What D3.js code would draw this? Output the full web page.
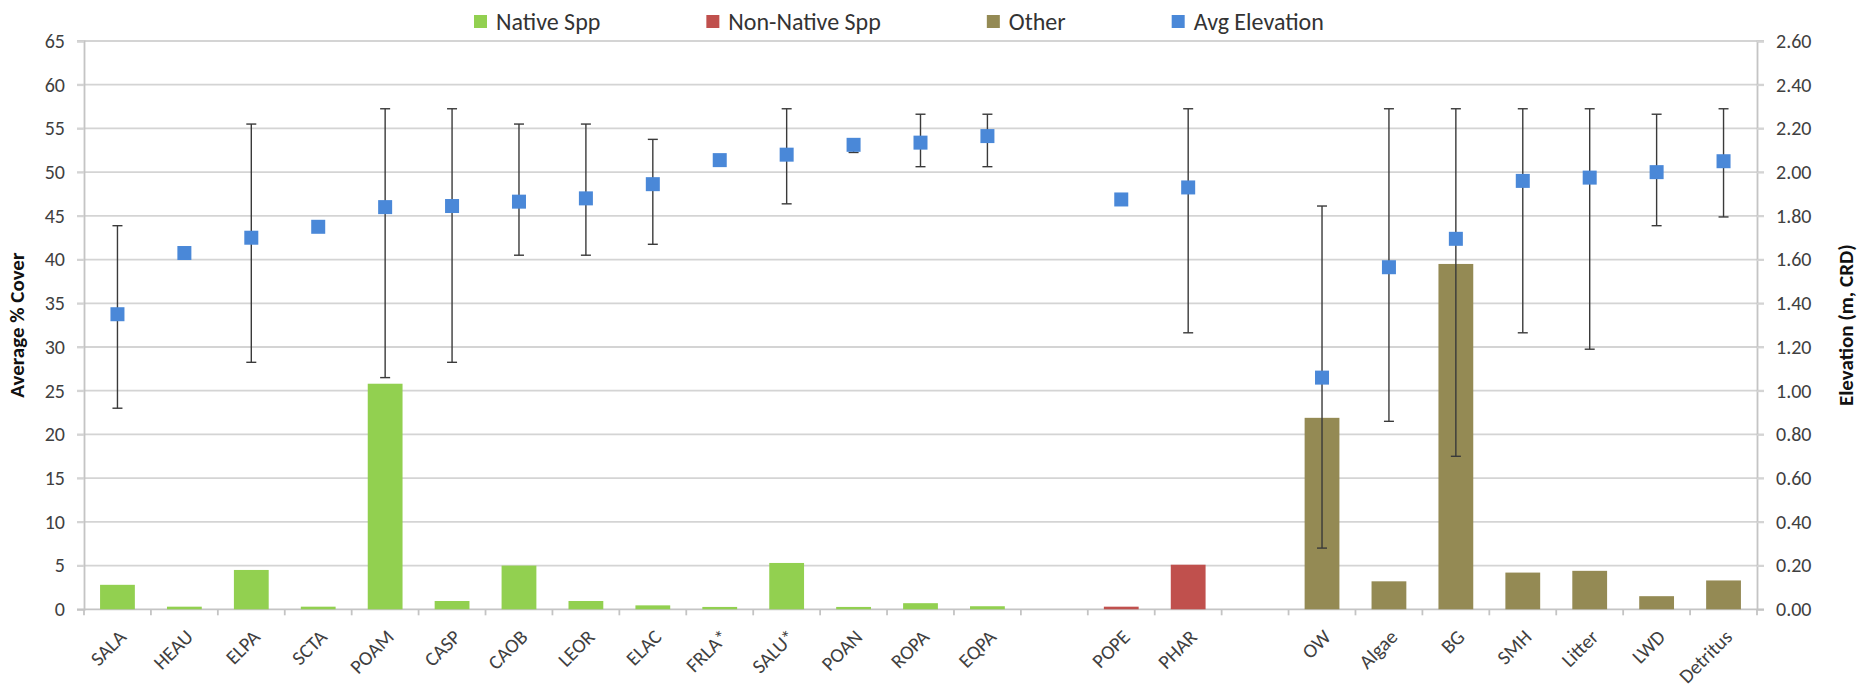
<!DOCTYPE html>
<html>
<head>
<meta charset="utf-8">
<script src="https://cdn.jsdelivr.net/npm/d3@7/dist/d3.min.js"></script>
<style>
  html, body { margin: 0; padding: 0; background: #fff; }
  svg { display: block; font-family: Carlito, Calibri, Lato, "Open Sans", sans-serif; }
</style>
</head>
<body>
<svg id="chart" width="1860" height="690"></svg>
<script>
// Category slots along the x axis (blank strings are spacer slots between groups)
const categories = ["SALA","HEAU","ELPA","SCTA","POAM","CASP","CAOB","LEOR","ELAC","FRLA*","SALU*","POAN","ROPA","EQPA",
                    "", "POPE","PHAR", " ", "OW","Algae","BG","SMH","Litter","LWD","Detritus"];

// Average % cover per group
const nativeCats  = ["SALA","HEAU","ELPA","SCTA","POAM","CASP","CAOB","LEOR","ELAC","FRLA*","SALU*","POAN","ROPA","EQPA"];
const nativeCover = [2.8, 0.3, 4.5, 0.3, 25.8, 0.95, 5.0, 0.95, 0.45, 0.27, 5.3, 0.27, 0.7, 0.35];

const nonNativeCats  = ["POPE","PHAR"];
const nonNativeCover = [0.3, 5.1];

const otherCats  = ["OW","Algae","BG","SMH","Litter","LWD","Detritus"];
const otherCover = [21.9, 3.2, 39.5, 4.2, 4.4, 1.5, 3.3];

// Average elevation (m, CRD) with min / max range (null = no range)
const elevCats = ["SALA","HEAU","ELPA","SCTA","POAM","CASP","CAOB","LEOR","ELAC","FRLA*","SALU*","POAN","ROPA","EQPA",
                  "POPE","PHAR","OW","Algae","BG","SMH","Litter","LWD","Detritus"];
const elevAvg  = [1.35, 1.63, 1.70, 1.75, 1.84, 1.845, 1.865, 1.88, 1.945, 2.055, 2.08, 2.125, 2.135, 2.165,
                  1.875, 1.93, 1.06, 1.565, 1.695, 1.96, 1.975, 2.00, 2.05];
const elevMin  = [0.92, null, 1.13, null, 1.06, 1.13, 1.62, 1.62, 1.67, null, 1.855, 2.09, 2.025, 2.025,
                  null, 1.265, 0.28, 0.86, 0.70, 1.265, 1.19, 1.755, 1.795];
const elevMax  = [1.755, null, 2.22, null, 2.29, 2.29, 2.22, 2.22, 2.15, null, 2.29, 2.14, 2.265, 2.265,
                  null, 2.29, 1.845, 2.29, 2.29, 2.29, 2.29, 2.265, 2.29];

// Axis ticks
const coverTicks = d3.range(0, 66, 5);
const elevTicks  = d3.range(0, 2.61, 0.2);

const colors = { native: "#92D050", nonNative: "#C0504D", other: "#948A54", elev: "#4A88D8" };
const textColor = "#404040";

const svg = d3.select("#chart");
const plotL = 84, plotR = 1757, plotT = 41, plotB = 609.3;

const x  = d3.scaleBand().domain(categories).range([plotL, plotR]).paddingInner(0).paddingOuter(0);
const y  = d3.scaleLinear().domain([0, 65]).range([plotB, plotT]);
const y2 = d3.scaleLinear().domain([0, 2.6]).range([plotB, plotT]);
const barW = x.bandwidth() * 0.52;

// Horizontal gridlines (extend through the tick marks on both sides)
svg.append("g").selectAll("line").data(coverTicks.filter(d => d > 0)).join("line")
  .attr("x1", plotL - 7).attr("x2", plotR + 7)
  .attr("y1", d => y(d)).attr("y2", d => y(d))
  .attr("stroke", "#d4d4d4").attr("stroke-width", 1.8);

// Left axis
const yAxis = d3.axisLeft(y).tickValues(coverTicks).tickSize(7).tickPadding(12).tickFormat(d3.format("d"));
const gy = svg.append("g").attr("transform", `translate(${plotL},0)`).call(yAxis);
// Right axis
const y2Axis = d3.axisRight(y2).tickValues(elevTicks).tickSize(7).tickPadding(12).tickFormat(d3.format(".2f"));
const gy2 = svg.append("g").attr("transform", `translate(${plotR},0)`).call(y2Axis);
[gy, gy2].forEach(g => {
  g.attr("font-family", null).attr("font-size", 20);
  g.select(".domain").attr("stroke", "#c4c4c4").attr("stroke-width", 1.8);
  g.selectAll(".tick line").attr("stroke", "#d4d4d4").attr("stroke-width", 1.8);
  g.selectAll(".tick text").attr("fill", textColor);
});

// Bottom axis: baseline, boundary ticks and rotated labels
svg.append("line").attr("x1", plotL - 7).attr("x2", plotR + 7).attr("y1", plotB).attr("y2", plotB)
  .attr("stroke", "#c4c4c4").attr("stroke-width", 1.8);
const bounds = categories.map(c => x(c)).concat([plotR]);
svg.append("g").selectAll("line").data(bounds).join("line")
  .attr("x1", d => d).attr("x2", d => d).attr("y1", plotB).attr("y2", plotB + 6)
  .attr("stroke", "#c4c4c4").attr("stroke-width", 1.8);
const xl = svg.append("g").selectAll("g").data(categories.filter(c => c.trim() !== "")).join("g")
  .attr("transform", c => `translate(${x(c) + x.bandwidth() / 2 + 5},${plotB + 24})`);
xl.append("text")
  .attr("transform", "rotate(-45)")
  .attr("text-anchor", "end").attr("dy", "0.35em")
  .attr("font-size", 20).attr("fill", textColor).text(c => c);

// Cover bars
function bars(cats, vals, color) {
  svg.append("g").selectAll("rect").data(cats.map((c, i) => ({ c, v: vals[i] }))).join("rect")
    .attr("x", d => x(d.c) + (x.bandwidth() - barW) / 2)
    .attr("width", barW)
    .attr("y", d => y(d.v))
    .attr("height", d => y(0) - y(d.v))
    .attr("fill", color);
}
bars(nativeCats, nativeCover, colors.native);
bars(nonNativeCats, nonNativeCover, colors.nonNative);
bars(otherCats, otherCover, colors.other);

// Elevation range bars and average markers
const elev = elevCats.map((c, i) => ({ c, v: elevAvg[i], lo: elevMin[i], hi: elevMax[i] }));
const cx = d => x(d.c) + x.bandwidth() / 2;
const eb = svg.append("g").attr("stroke", "#3a3a3a").attr("stroke-width", 1.4);
elev.filter(d => d.lo !== null).forEach(d => {
  eb.append("line").attr("x1", cx(d)).attr("x2", cx(d)).attr("y1", y2(d.lo)).attr("y2", y2(d.hi));
  eb.append("line").attr("x1", cx(d) - 5).attr("x2", cx(d) + 5).attr("y1", y2(d.lo)).attr("y2", y2(d.lo));
  eb.append("line").attr("x1", cx(d) - 5).attr("x2", cx(d) + 5).attr("y1", y2(d.hi)).attr("y2", y2(d.hi));
});
const ms = 14;
svg.append("g").selectAll("rect").data(elev).join("rect")
  .attr("x", d => cx(d) - ms / 2).attr("y", d => y2(d.v) - ms / 2)
  .attr("width", ms).attr("height", ms).attr("fill", colors.elev);

// Axis titles
svg.append("text").attr("transform", `translate(24,${(plotT + plotB) / 2}) rotate(-90)`)
  .attr("text-anchor", "middle").attr("font-size", 21).attr("font-weight", "bold").attr("fill", "#111")
  .text("Average % Cover");
svg.append("text").attr("transform", `translate(1853,${(plotT + plotB) / 2}) rotate(-90)`)
  .attr("text-anchor", "middle").attr("font-size", 21).attr("font-weight", "bold").attr("fill", "#111")
  .text("Elevation (m, CRD)");

// Legend
const legendItems = [
  { label: "Native Spp", color: colors.native },
  { label: "Non-Native Spp", color: colors.nonNative },
  { label: "Other", color: colors.other },
  { label: "Avg Elevation", color: colors.elev }
];
const lg = svg.append("g");
let lx = 474;
legendItems.forEach(it => {
  lg.append("rect").attr("x", lx).attr("y", 15).attr("width", 13).attr("height", 13).attr("fill", it.color);
  const t = lg.append("text").attr("x", lx + 22).attr("y", 22).attr("dy", "0.35em")
    .attr("font-size", 24).attr("fill", "#333").text(it.label);
  lx += 22 + t.node().getComputedTextLength() + 106;
});
</script>
</body>
</html>
